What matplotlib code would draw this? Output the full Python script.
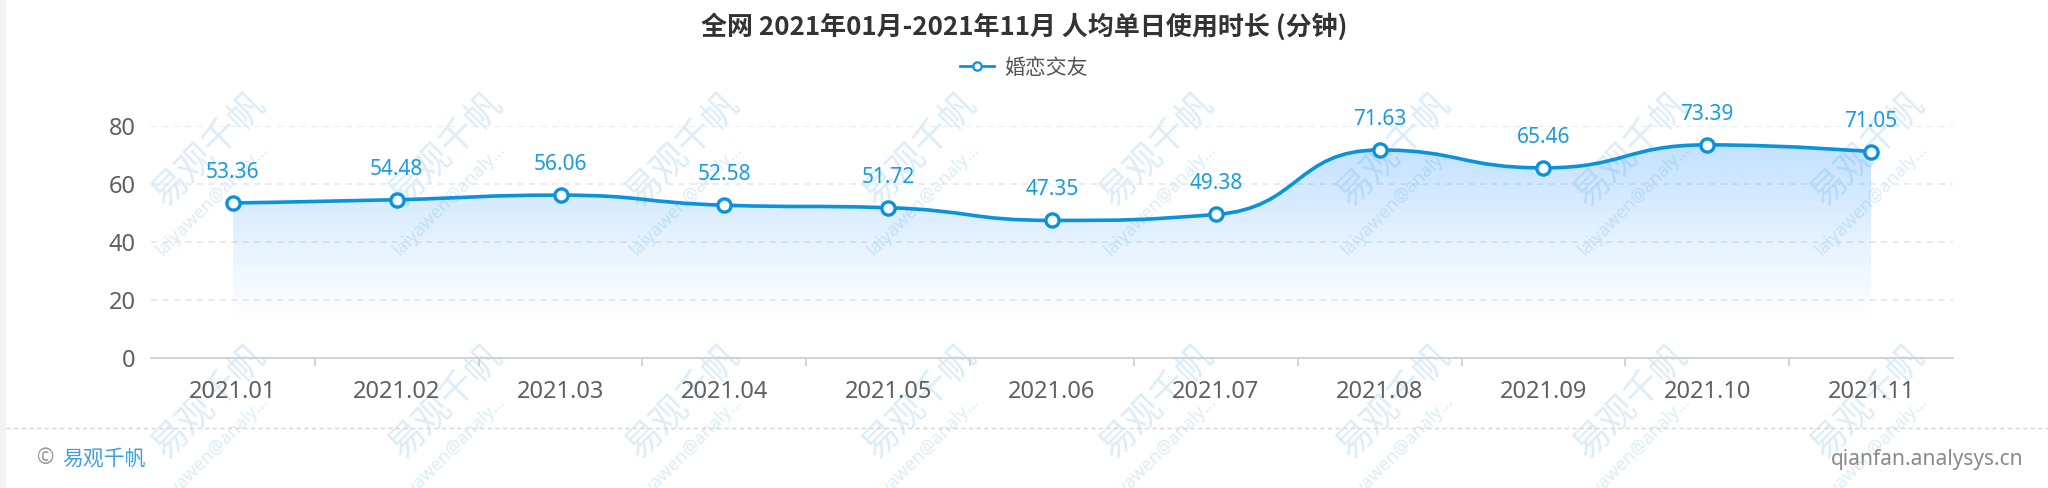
import matplotlib
matplotlib.use("Agg")
import matplotlib.pyplot as plt
import numpy as np
from matplotlib.path import Path
from matplotlib.patches import PathPatch, Rectangle
from matplotlib.lines import Line2D

plt.rcParams['font.family'] = ['Noto Sans', 'Noto Sans CJK SC', 'DejaVu Sans']

# data
months = ["2021.01", "2021.02", "2021.03", "2021.04", "2021.05", "2021.06",
          "2021.07", "2021.08", "2021.09", "2021.10", "2021.11"]
minutes = [53.36, 54.48, 56.06, 52.58, 51.72, 47.35, 49.38, 71.63, 65.46, 73.39, 71.05]
series_name = "婚恋交友"
title = "全网 2021年01月-2021年11月 人均单日使用时长 (分钟)"
yticks = [0, 20, 40, 60, 80]

BLUE = "#0b92dc"
LABEL_BLUE = "#1a9be0"
W, H = 2048, 488

fig = plt.figure(figsize=(W / 100, H / 100), dpi=100)
ax = fig.add_axes([151 / W, 1 - 357.7 / H, 1802 / W, 232 / H])
ax.set_facecolor("none")
ax.set_xlim(-0.5, len(months) - 0.5)
ax.set_ylim(0, 80)

x = np.arange(len(months))
y = np.array(minutes)


def smooth_path(xs, ys, smooth=0.5):
    # echarts-like smoothing, computed in pixel space
    pts = ax.transData.transform(np.column_stack([xs, ys]))
    n = len(pts)
    verts = [tuple(pts[0])]
    codes = [Path.MOVETO]
    cp_next = pts[0].copy()
    for i in range(n - 1):
        nxt = pts[i + 1]
        if i + 1 < n - 1:
            p1 = pts[i + 1]
            prev, after = pts[i], pts[i + 2]
            v = (after - prev) * smooth
            lp = np.hypot(*(p1 - prev))
            ln = np.hypot(*(after - p1))
            r = ln / (ln + lp)
            ncp = p1 + v * r
            ncp = np.minimum(ncp, np.maximum(after, p1))
            ncp = np.maximum(ncp, np.minimum(after, p1))
            v = ncp - p1
            cp1 = p1 - v * lp / ln
            cp1 = np.minimum(cp1, np.maximum(prev, p1))
            cp1 = np.maximum(cp1, np.minimum(prev, p1))
            v = p1 - cp1
            ncp = p1 + v * ln / lp
        else:
            cp1 = nxt.copy()
            ncp = nxt.copy()
        verts += [tuple(cp_next), tuple(cp1), tuple(nxt)]
        codes += [Path.CURVE4] * 3
        cp_next = ncp
    inv = ax.transData.inverted()
    return inv.transform(np.array(verts)), codes


curve_verts, curve_codes = smooth_path(x, y)
line_path = Path(curve_verts, curve_codes)

# gradient area under the curve
fill_verts = np.vstack([[x[0], 0], curve_verts, [x[-1], 0], [x[0], 0]])
fill_codes = [Path.MOVETO, Path.LINETO] + curve_codes[1:] + [Path.LINETO, Path.CLOSEPOLY]
fill_path = Path(fill_verts, fill_codes)
ymax = y.max()
grad_y = np.linspace(0, ymax, 256)
alpha = np.clip((grad_y - 12) / (ymax - 12), 0, 1) ** 1.1 * 0.27
img = np.zeros((256, 2, 4))
img[..., 0] = 30 / 255
img[..., 1] = 144 / 255
img[..., 2] = 1.0
img[..., 3] = alpha[:, None]
im = ax.imshow(img, extent=[x[0], x[-1], 0, ymax], origin="lower",
               aspect="auto", zorder=1, interpolation="bilinear")
clip = PathPatch(fill_path, transform=ax.transData, facecolor="none", edgecolor="none")
ax.add_patch(clip)
im.set_clip_path(clip)
ax.set_xlim(-0.5, len(months) - 0.5)
ax.set_ylim(0, 80)

ax.add_patch(PathPatch(line_path, facecolor="none", edgecolor=BLUE, lw=2.6, zorder=3,
                       capstyle="round", joinstyle="round"))
ax.plot(x, y, linestyle="none", marker="o", markersize=9.5, markerfacecolor="white",
        markeredgecolor=BLUE, markeredgewidth=2.4, zorder=4, clip_on=False)

for xi, v in zip(x, minutes):
    ax.annotate(f"{v:.2f}", (xi, v), xytext=(0, 22), textcoords="offset points",
                ha="center", va="center", fontsize=15, color=LABEL_BLUE, zorder=5)

# axes styling
for s in ["top", "right", "left"]:
    ax.spines[s].set_visible(False)
ax.spines["bottom"].set_color("#cfcfcf")
ax.spines["bottom"].set_linewidth(1.3)
ax.set_yticks(yticks)
ax.set_yticklabels([str(t) for t in yticks])
ax.tick_params(axis="y", length=0, pad=11, labelsize=17, labelcolor="#606060")
ax.set_xticks(x)
ax.set_xticklabels(months)
ax.tick_params(axis="x", which="major", length=0, pad=16, labelsize=17, labelcolor="#606060")
ax.set_xticks(np.arange(0.5, len(months) - 1, 1), minor=True)
ax.tick_params(axis="x", which="minor", length=6, width=1.3, color="#cfcfcf", direction="out")
for t in yticks[1:]:
    ax.axhline(t, color="#e3e6ee", lw=1.1, linestyle=(0, (4, 3.5)), zorder=0)

# title and legend
fig.text(0.5, 1 - 27 / H, title, ha="center", va="center", fontsize=18.7,
         fontweight="bold", color="#333333", family=["Noto Sans CJK SC", "DejaVu Sans"])
handle = Line2D([], [], color=BLUE, lw=2, marker="o", markersize=6,
                markerfacecolor="white", markeredgecolor=BLUE, markeredgewidth=1.6)
fig.legend([handle], [series_name], loc="center", bbox_to_anchor=(0.5, 1 - 68 / H),
           frameon=False, fontsize=15, labelcolor="#555555", handlelength=1.6,
           handletextpad=0.5)

# watermarks
wm_color = "#dcedf9"
for row_y in [150, 402]:
    for k in range(8):
        cx = 210 + 237 * k
        fig.text(cx / W, 1 - row_y / H, "易观千帆", rotation=45, rotation_mode="anchor",
                 ha="center", va="center", fontsize=26, color=wm_color, zorder=-1)
        fig.text((cx + 2) / W, 1 - (row_y + 50) / H, "laiyawen@analy...", rotation=45,
                 rotation_mode="anchor", ha="center", va="center", fontsize=13,
                 color=wm_color, zorder=-1)

# frame details and footer
fig.patches.append(Rectangle((0, 0), 6 / W, 1, transform=fig.transFigure,
                             facecolor="#f2f3f5", edgecolor="none", zorder=-2))
fig.lines.append(Line2D([6 / W, 1], [1 - 428 / H, 1 - 428 / H], transform=fig.transFigure,
                        color="#d6d6d6", lw=1, linestyle=(0, (3, 2.5))))
fig.text(37 / W, 1 - 459 / H, "©", ha="left", va="center", fontsize=15, color="#999999")
fig.text(62 / W, 1 - 459 / H, "易观千帆", ha="left", va="center", fontsize=15, color="#3ba0e2")
fig.text(2023 / W, 1 - 459 / H, "qianfan.analysys.cn", ha="right", va="center",
         fontsize=15, color="#8a8a8a")

fig.savefig("out.png", dpi=100, facecolor="white")
